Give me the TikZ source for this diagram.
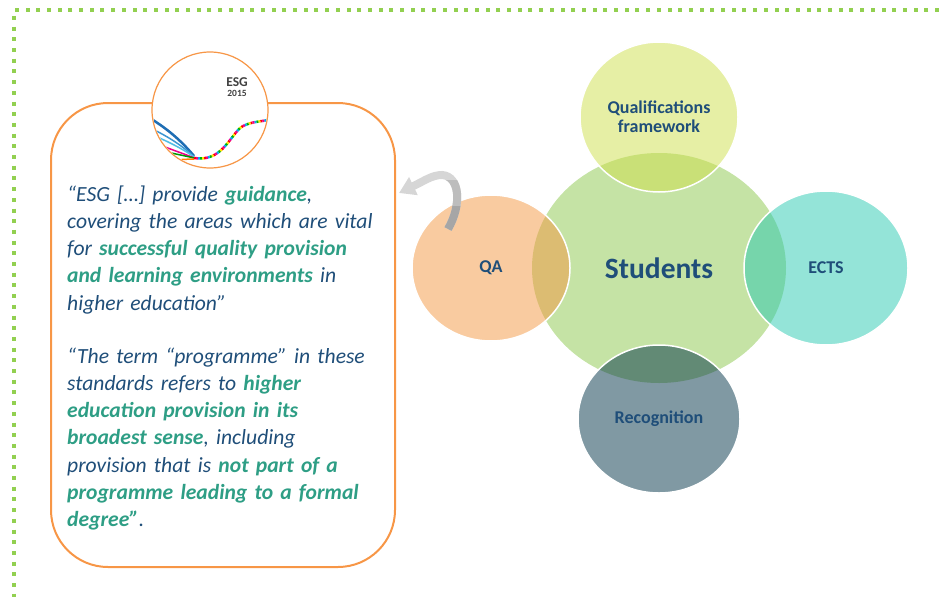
\documentclass[tikz,border=0pt]{standalone}
\usepackage{fontspec}
\setmainfont{Carlito}
\usepackage{tikz}
\usetikzlibrary{arrows.meta,shapes.geometric}
\definecolor{esgblue}{HTML}{1F4E79}
\definecolor{esgteal}{HTML}{2E9E85}
\definecolor{esgorange}{HTML}{F79646}
\definecolor{dotgreen}{HTML}{92D050}
\definecolor{studfill}{HTML}{C5E3A5}
\definecolor{qffill}{HTML}{CDDF4B}
\definecolor{qafill}{HTML}{F39741}
\definecolor{ectsfill}{HTML}{29C9B1}
\definecolor{recfill}{HTML}{013347}
\definecolor{arrlight}{HTML}{D6D6D6}
\definecolor{arrmid}{HTML}{BDBDBD}
\definecolor{arrdark}{HTML}{A6A6A6}
\definecolor{logogray}{HTML}{404040}
\newcommand{\hl}[1]{\textcolor{esgteal}{\textbf{#1}}}

\begin{document}
\begin{tikzpicture}[x=1pt,y=-1pt]
\tikzstyle{every node}+=[inner sep=0pt]
\tikzstyle{quotebox}=[draw=esgorange, line width=2pt, rounded corners=57pt]
\tikzstyle{quote}=[anchor=base west, text width=340pt, align=left, text=esgblue,
  font=\fontsize{21.6}{27.3}\selectfont\itshape]
\tikzstyle{hub}=[ellipse, fill=studfill, text=esgblue, font=\fontsize{29.5}{32}\selectfont\bfseries]
\tikzstyle{sat}=[ellipse, draw=white, line width=1.5pt, fill opacity=0.5, text opacity=1,
  text=esgblue, align=center, font=\fontsize{18}{19}\selectfont\bfseries]
\tikzstyle{turnarrow}=[line width=8pt, -{Triangle[width=19pt,length=16pt]}]
\useasboundingbox (0,0) rectangle (939,597);
\draw [dotgreen, line width=4pt, dash pattern=on 4pt off 6.7pt] (939,10) -- (14,10) -- (14,597);
\node [quotebox, minimum width=344pt, minimum height=464pt] (box) at (223,335) {};
\node [circle, draw=esgorange, line width=1.2pt, fill=white, minimum size=116pt] (logo) at (210,110) {};
\begin{scope}
\clip (logo.center) circle (57pt);
\draw [line width=2.5pt, color={rgb,255:red,31;green,110;blue,180}] (148,117) .. controls (170,130) and (184,144) .. (194,156);
\draw [line width=1.5pt, color={rgb,255:red,60;green,150;blue,210}] (148,127) .. controls (170,137) and (185,148) .. (194,157);
\draw [line width=1.5pt, color={rgb,255:red,80;green,190;blue,230}] (150,134) .. controls (170,142) and (186,151) .. (194,157);
\draw [line width=1.5pt, magenta] (155,143) .. controls (172,150) and (185,154) .. (194,158);
\draw [line width=1.5pt, green!60!black] (158,150) .. controls (175,154) and (186,156) .. (194,158);
\draw [line width=1.5pt, orange] (165,160) .. controls (178,160) and (188,159) .. (194,159);
\foreach \col/\off in {red/0,yellow!90!orange/2,green!70!black/4,cyan/6,magenta/8}
  \draw [\col, line width=2.5pt, dash pattern=on 2pt off 8pt, dash phase=\off pt]
    (194,158) .. controls (220,162) and (228,140) .. (240,128) .. controls (248,122) and (258,122) .. (268,120);
\end{scope}
\node [text=logogray, font=\fontsize{13.5}{14}\selectfont\bfseries] (esg) at (237,82) {ESG};
\node [text=logogray, font=\fontsize{9.5}{10}\selectfont\bfseries] (year) at (237,93) {2015};
\node [quote] (para1) at (67,201) {“ESG […] provide \hl{guidance},\\
covering the areas which are vital\\
for \hl{successful quality provision}\\
\hl{and learning environments} in\\
higher education”};
\node [quote] (para2) at (67,363) {“The term “programme” in these\\
standards refers to \hl{higher}\\
\hl{education provision in its}\\
\hl{broadest sense}, including\\
provision that is \hl{not part of a}\\
\hl{programme leading to a formal}\\
\hl{degree”}.};
\node [hub, minimum width=254pt, minimum height=230pt] (students) at (659,268) {Students};
\node [sat, fill=qffill, minimum width=158pt, minimum height=150pt] (qf) at (659,117) {Qualifications\\framework};
\node [sat, fill=qafill, minimum width=158pt, minimum height=146pt] (qa) at (491,268) {QA};
\node [sat, fill=ectsfill, minimum width=164pt, minimum height=154pt] (ects) at (826,268) {ECTS};
\node [sat, fill=recfill, minimum width=162pt, minimum height=148pt] (recog) at (659,419) {Recognition};
\coordinate (arrtail) at (448,229);
\coordinate (arrhead) at (399,193);
\draw [turnarrow, arrlight] (arrtail) .. controls (462,205) and (460,176) .. (442,175) .. controls (432,175) and (424,181) .. (arrhead);
\begin{scope}
\clip (445,180) rectangle (470,206);
\draw [turnarrow, arrmid] (arrtail) .. controls (462,205) and (460,176) .. (442,175) .. controls (432,175) and (424,181) .. (arrhead);
\end{scope}
\begin{scope}
\clip (438,206) rectangle (470,240);
\draw [turnarrow, arrdark] (arrtail) .. controls (462,205) and (460,176) .. (442,175) .. controls (432,175) and (424,181) .. (arrhead);
\end{scope}
\end{tikzpicture}
\end{document}
